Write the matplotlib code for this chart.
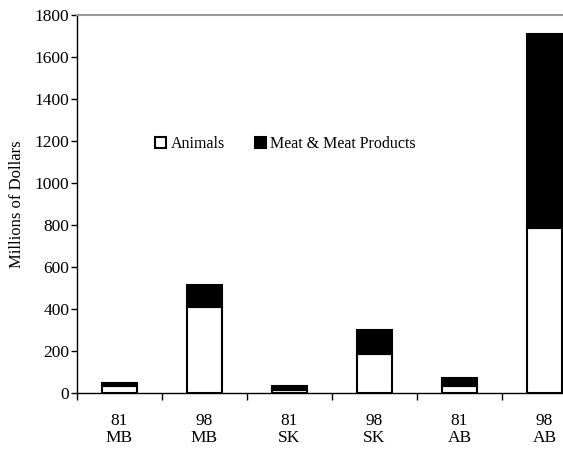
import numpy as np
import matplotlib.pyplot as plt

plt.rcParams['font.family'] = ['Liberation Serif', 'DejaVu Serif']

# data
years = ['81', '98', '81', '98', '81', '98']
provinces = ['MB', 'MB', 'SK', 'SK', 'AB', 'AB']
animals = [32, 408, 14, 186, 33, 787]
meat = [17, 106, 19, 112, 37, 922]

labels = [f'{y}\n{p}' for y, p in zip(years, provinces)]
x = np.arange(len(labels))

fig = plt.figure(figsize=(5.63, 4.51), dpi=100)
# plot area runs past the right edge of the picture, as in the original
ax = fig.add_axes([77/563, 58/451, 510/563, 378/451])

ax.bar(x, animals, width=0.41, color='white', edgecolor='black', linewidth=1.5,
       label='Animals')
ax.bar(x, meat, width=0.41, bottom=animals, color='black', edgecolor='black',
       linewidth=1.5, label='Meat & Meat Products')

ax.set_xlim(-0.5, len(labels) - 0.5)
ax.set_ylim(0, 1800)
ax.set_yticks(range(0, 1801, 200))
ax.set_xticks(x)
ax.set_xticklabels(labels, linespacing=1.1)
ax.set_xticks(np.arange(-0.5, len(labels), 1), minor=True)
ax.tick_params(axis='x', which='major', length=0, pad=14.5, labelsize=12.5)
ax.tick_params(axis='x', which='minor', length=5, width=1, direction='out')
ax.tick_params(axis='y', length=4, width=1, direction='out', labelsize=12.5, pad=1.5)
ax.set_ylabel('Millions of Dollars', fontsize=12, labelpad=7)

ax.spines['right'].set_visible(False)
ax.spines['top'].set_color('#999999')
ax.spines['top'].set_linewidth(1.5)
ax.spines['left'].set_linewidth(1)
ax.spines['bottom'].set_linewidth(1)

ax.legend(loc='center', bbox_to_anchor=(0.409, 0.659), ncol=2, frameon=False,
          fontsize=11.5, handlelength=0.7, handleheight=0.7, handletextpad=0.25,
          columnspacing=1.9)

fig.savefig('out.png', dpi=100)
